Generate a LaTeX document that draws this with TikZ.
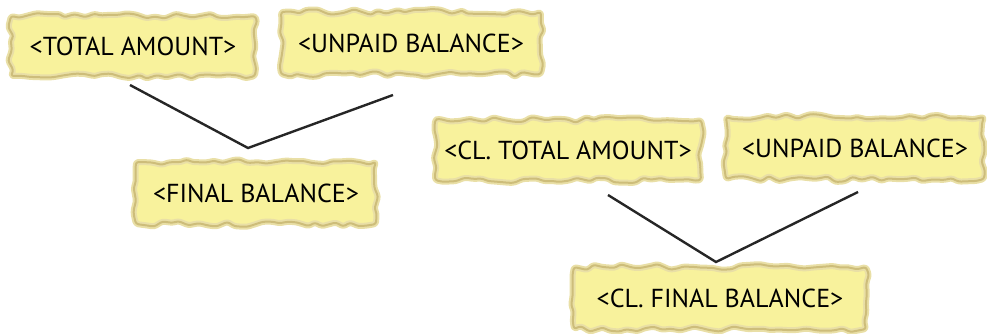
\documentclass[tikz,border=0pt]{standalone}
\usepackage{fontspec}
\setmainfont{PT Sans}
\usetikzlibrary{decorations.pathmorphing}
\definecolor{paper}{HTML}{F8F29C}
\definecolor{paperedge}{HTML}{CDBD7A}
\definecolor{paperglow}{HTML}{E9DFA6}
\begin{document}
\begin{tikzpicture}[x=1pt,y=1pt,
  torn/.style={
    preaction={fill=paper, draw=paperglow, double=paperedge, double distance=2pt,
      line width=2pt, line join=round, decorate,
      decoration={random steps, segment length=9pt, amplitude=3pt}, rounded corners=2.5pt},
    minimum height=60pt, inner sep=0pt, font=\fontsize{26}{28}\selectfont, text=black},
  link/.style={line width=2.4pt, black!85}]
\pgfmathsetseed{11}
\useasboundingbox (0,0) rectangle (987,-333);
\node[torn, minimum width=244pt] (n1) at (133,-46) {<TOTAL AMOUNT>};
\node[torn, minimum width=260pt, minimum height=62pt] (n2) at (411,-43) {<UNPAID BALANCE>};
\node[torn, minimum width=240pt, minimum height=62pt] (n3) at (256,-193) {<FINAL BALANCE>};
\node[torn, minimum width=266pt] (n4) at (568,-150) {<CL. TOTAL AMOUNT>};
\node[torn, minimum width=258pt, minimum height=62pt] (n5) at (855,-148) {<UNPAID BALANCE>};
\node[torn, minimum width=292pt, minimum height=62pt] (n6) at (720,-298) {<CL. FINAL BALANCE>};
\coordinate (a1) at (130,-85);
\coordinate (j1) at (248,-148);
\coordinate (b1) at (393,-95);
\coordinate (a2) at (608,-195);
\coordinate (j2) at (716,-262);
\coordinate (b2) at (858,-192);
\draw[link] (a1) -- (j1) -- (b1);
\draw[link] (a2) -- (j2) -- (b2);
\end{tikzpicture}
\end{document}
